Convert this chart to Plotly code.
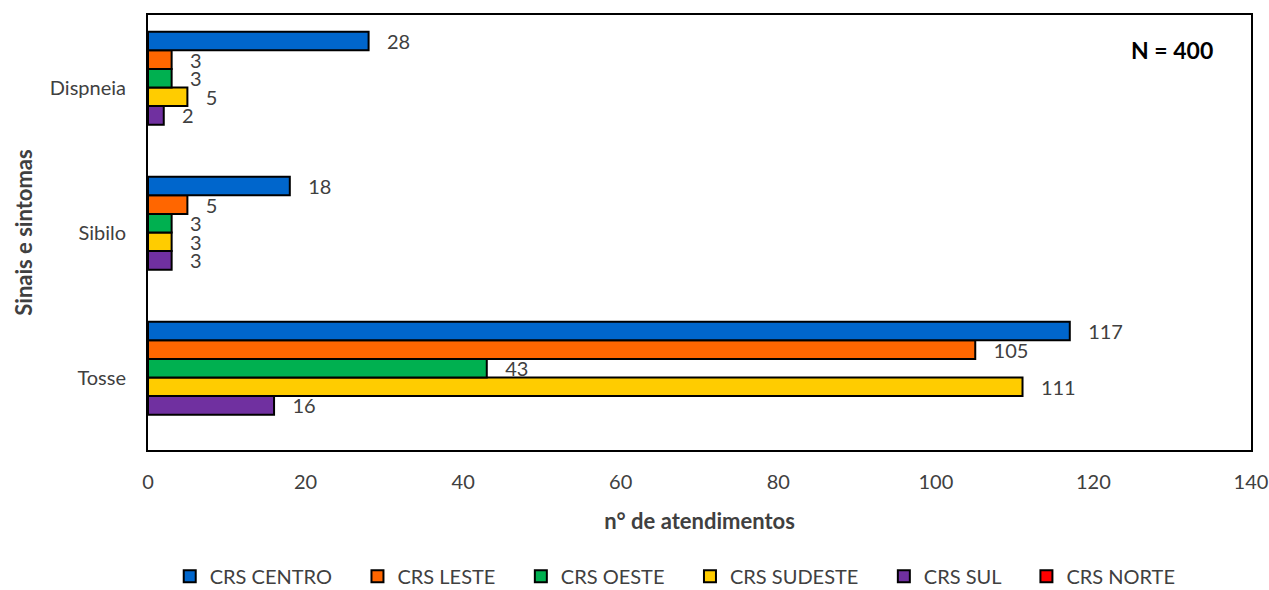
import plotly.graph_objects as go

# Categories, top to bottom as drawn: Dispneia, Sibilo, Tosse
symptoms = ["Tosse", "Sibilo", "Dispneia"]

regions = ["CRS CENTRO", "CRS LESTE", "CRS OESTE", "CRS SUDESTE", "CRS SUL", "CRS NORTE"]
colors = ["#0066CC", "#FF6600", "#00B050", "#FFCC00", "#7030A0", "#FF0000"]

# values per region, in the order of `symptoms`
centro = [117, 18, 28]
leste = [105, 5, 3]
oeste = [43, 3, 3]
sudeste = [111, 3, 5]
sul = [16, 3, 2]
norte = [None, None, None]

series = [centro, leste, oeste, sudeste, sul, norte]

FONT = "Lato, Open Sans, sans-serif"
GREY = "#404040"
PAD = "\u00a0" * 4  # extra room after each legend entry

fig = go.Figure()
# add in reverse so CRS CENTRO sits at the top of each group
for rank in reversed(range(len(regions))):
    vals = series[rank]
    fig.add_trace(go.Bar(
        y=symptoms,
        x=vals,
        orientation="h",
        name=regions[rank] + (PAD if rank < len(regions) - 1 else ""),
        legendrank=rank + 1,
        marker=dict(color=colors[rank], line=dict(color="black", width=2)),
        text=[("\u00a0\u00a0\u00a0" + str(v)) if v is not None else "" for v in vals],
        textposition="outside",
        textfont=dict(family=FONT, size=20, color=GREY),
        constraintext="none",
        cliponaxis=False,
    ))

fig.update_layout(
    template="none",
    width=1269, height=590,
    margin=dict(l=148, r=18, t=15, b=140, autoexpand=False),
    paper_bgcolor="white", plot_bgcolor="white",
    font=dict(family=FONT, size=20, color=GREY),
    barmode="group",
    bargap=0.23,
    bargroupgap=0,
    xaxis=dict(
        range=[0, 140], dtick=20, tick0=0, automargin=False,
        showgrid=False, zeroline=False,
        showline=True, linecolor="black", linewidth=2, mirror=True,
        ticks="", ticklabelstandoff=13,
        tickfont=dict(family=FONT, size=20, color=GREY),
        title=dict(text="<b>n° de atendimentos</b>", font=dict(family=FONT, size=22, color=GREY), standoff=22),
    ),
    yaxis=dict(
        range=[-0.5, 2.5], automargin=False,
        showgrid=False, zeroline=False,
        showline=True, linecolor="black", linewidth=2, mirror=True,
        ticks="", ticklabelstandoff=16,
        tickfont=dict(family=FONT, size=20, color=GREY),
        title=dict(text="<b>Sinais e sintomas</b>", font=dict(family=FONT, size=22, color=GREY), standoff=11),
    ),
    legend=dict(
        orientation="h", x=0.478, xanchor="center", y=-0.29, yanchor="middle",
        font=dict(family=FONT, size=20, color=GREY),
        itemsizing="constant", bgcolor="rgba(0,0,0,0)",
        tracegroupgap=0,
    ),
    annotations=[dict(
        x=0.967, y=0.92, xref="paper", yref="paper", xanchor="right", yanchor="middle",
        text="<b>N = 400</b>", showarrow=False,
        font=dict(family=FONT, size=23, color="black"),
    )],
)

fig.write_html("out.html")
